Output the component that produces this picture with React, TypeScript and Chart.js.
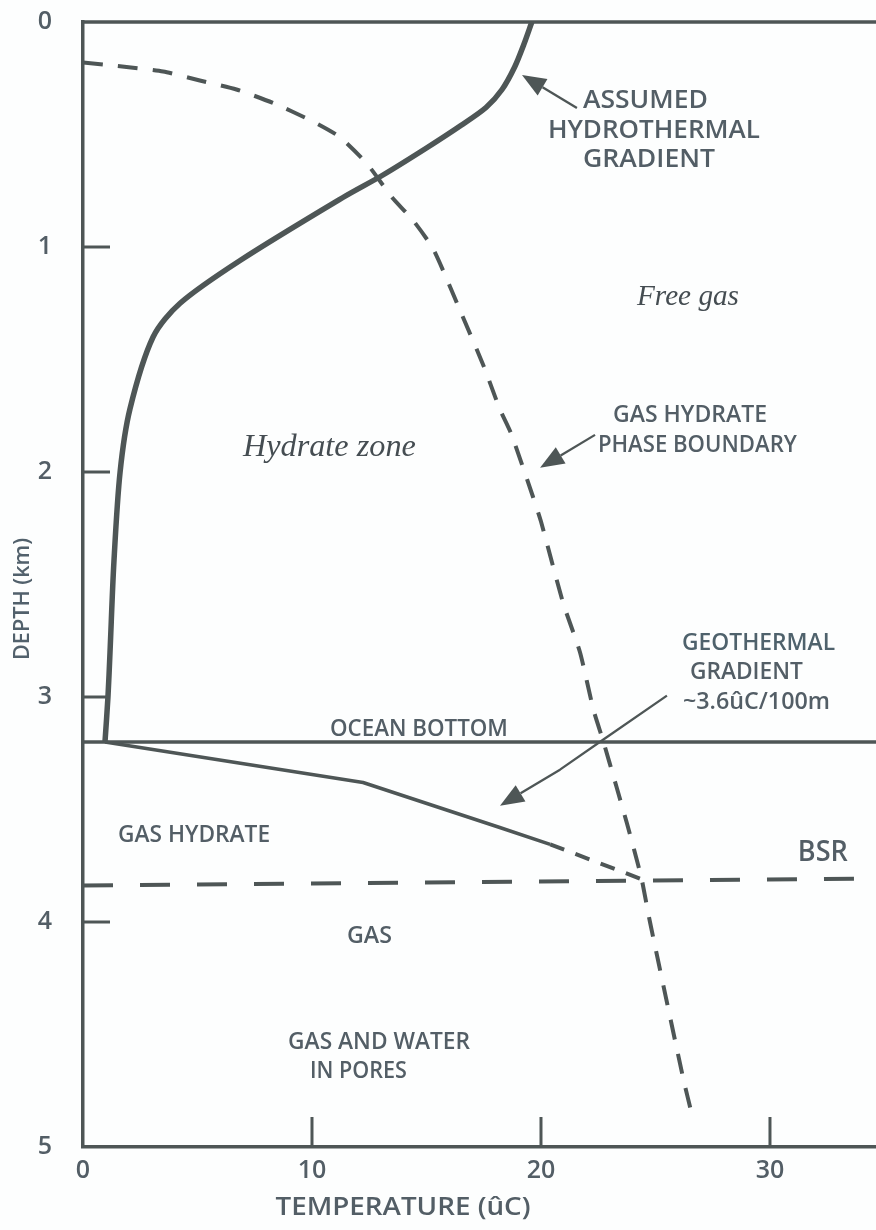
import React, { useEffect, useRef } from 'react';
import { Chart, registerables } from 'chart.js';

Chart.register(...registerables);

// ---------- data ----------
const T_MAX = 34.63;
const DEPTH_TICKS = [0, 1, 2, 3, 4, 5];
const TEMP_TICKS = [0, 10, 20, 30];
const INNER_DEPTH_TICKS = [1, 2, 3, 4];
const INNER_TEMP_TICKS = [10, 20, 30];

// assumed hydrothermal gradient (solid, thick)
const hydroTemp = [19.6, 19.25, 18.85, 18.3, 17.6, 16.5, 15.0, 13.1, 11.35, 6.86, 4.24, 3.06, 2.05, 1.62, 1.35, 1.18, 1.09, 0.96];
const hydroDepth = [0, 0.1, 0.2, 0.3, 0.38, 0.46, 0.56, 0.68, 0.78, 1.06, 1.25, 1.4, 1.72, 2.0, 2.4, 2.8, 3.0, 3.2];

// gas hydrate phase boundary (dashed)
const phaseTemp = [0, 1.9, 3.5, 5.1, 6.7, 8.3, 10.0, 11.2, 12.4, 13.5, 14.4, 15.3, 16.5, 17.5, 18.2, 18.7, 19.65, 20.0, 20.96, 21.7, 22.3, 22.7, 23.3, 23.75, 24.2, 24.4, 24.76, 26.2, 26.6];
const phaseDepth = [0.18, 0.2, 0.22, 0.26, 0.3, 0.36, 0.44, 0.51, 0.63, 0.78, 0.88, 1.01, 1.29, 1.53, 1.72, 1.83, 2.11, 2.22, 2.58, 2.8, 3.06, 3.19, 3.4, 3.56, 3.73, 3.81, 4.0, 4.69, 4.86];

// geothermal gradient below the ocean bottom
const geoSolidTemp = [0.96, 12.23, 18.2, 20.4];
const geoSolidDepth = [3.2, 3.38, 3.58, 3.655];
const geoDashTemp = [20.4, 24.4];
const geoDashDepth = [3.655, 3.81];

// ocean bottom and BSR
const oceanTemp = [0, T_MAX];
const oceanDepth = [3.2, 3.2];
const bsrTemp = [0, T_MAX];
const bsrDepth = [3.838, 3.807];

// ---------- styles ----------
const LINE = '#4e5656';
const TEXT = '#535e66';
const ITALIC = '#454d52';
const SANS = '"Open Sans", "Noto Sans", sans-serif';
const SERIF = '"Liberation Serif", "DejaVu Serif", serif';
const W = '600';

const xy = (t: number[], d: number[]) => t.map((v, i) => ({ x: v, y: d[i] }));

type Label = { text: string; t: number; d: number; w: number; font: string; color?: string };
const LABELS: Label[] = [
  { text: 'ASSUMED', t: 24.56, d: 0.351, w: 125, font: `${W} 25px ${SANS}` },
  { text: 'HYDROTHERMAL', t: 24.93, d: 0.484, w: 212, font: `${W} 25px ${SANS}` },
  { text: 'GRADIENT', t: 24.72, d: 0.613, w: 132, font: `${W} 25px ${SANS}` },
  { text: 'Free gas', t: 26.42, d: 1.222, w: 102, font: `italic 30px ${SERIF}`, color: ITALIC },
  { text: 'Hydrate zone', t: 10.76, d: 1.89, w: 173, font: `italic 32px ${SERIF}`, color: ITALIC },
  { text: 'GAS HYDRATE', t: 26.51, d: 1.746, w: 154, font: `${W} 24px ${SANS}` },
  { text: 'PHASE BOUNDARY', t: 26.83, d: 1.879, w: 199, font: `${W} 24px ${SANS}` },
  { text: 'GEOTHERMAL', t: 29.5, d: 2.759, w: 153, font: `${W} 24px ${SANS}`, color: '#4f626c' },
  { text: 'GRADIENT', t: 28.97, d: 2.888, w: 113, font: `${W} 24px ${SANS}` },
  { text: '~3.6ûC/100m', t: 29.41, d: 3.021, w: 147, font: `${W} 24px ${SANS}` },
  { text: 'OCEAN BOTTOM', t: 14.67, d: 3.141, w: 178, font: `${W} 24px ${SANS}` },
  { text: 'GAS HYDRATE', t: 4.85, d: 3.612, w: 152, font: `${W} 24px ${SANS}` },
  { text: 'BSR', t: 32.31, d: 3.692, w: 50, font: `${W} 28px ${SANS}` },
  { text: 'GAS', t: 12.51, d: 4.065, w: 45, font: `${W} 24px ${SANS}` },
  { text: 'GAS AND WATER', t: 12.93, d: 4.536, w: 182, font: `${W} 24px ${SANS}` },
  { text: 'IN PORES', t: 12.03, d: 4.665, w: 97, font: `${W} 24px ${SANS}` },
];

// arrows: polyline in data coords, last point is the tip
const ARROWS: { t: number[]; d: number[] }[] = [
  { t: [21.57, 19.17], d: [0.382, 0.235] },
  { t: [22.36, 19.96], d: [1.835, 1.981] },
  { t: [25.5, 22.71, 20.83, 18.21], d: [2.994, 3.19, 3.323, 3.483] },
];

function fitText(ctx: CanvasRenderingContext2D, text: string, x: number, y: number, width: number, font: string, color: string, rot = 0) {
  ctx.save();
  ctx.font = font;
  const w = ctx.measureText(text).width;
  ctx.translate(x, y);
  if (rot) ctx.rotate(rot);
  ctx.scale(width / w, 1);
  ctx.fillStyle = color;
  ctx.textAlign = 'center';
  ctx.textBaseline = 'middle';
  ctx.fillText(text, 0, 0);
  ctx.restore();
}

const decor = {
  id: 'decor',
  beforeDraw(chart: any) {
    const ctx = chart.ctx;
    ctx.save();
    ctx.fillStyle = '#fdfefe';
    ctx.fillRect(0, 0, chart.width, chart.height);
    ctx.restore();
  },
  afterDraw(chart: any) {
    const ctx: CanvasRenderingContext2D = chart.ctx;
    const xs = chart.scales.x;
    const ys = chart.scales.y;
    const area = chart.chartArea;
    ctx.save();
    ctx.strokeStyle = LINE;
    ctx.lineCap = 'butt';
    // top frame line at depth 0
    ctx.lineWidth = 3.5;
    ctx.beginPath();
    ctx.moveTo(area.left - 1.75, ys.getPixelForValue(0));
    ctx.lineTo(area.right, ys.getPixelForValue(0));
    ctx.stroke();
    // inward ticks
    ctx.lineWidth = 3;
    INNER_DEPTH_TICKS.forEach((v) => {
      const y = ys.getPixelForValue(v);
      ctx.beginPath();
      ctx.moveTo(area.left, y);
      ctx.lineTo(area.left + 27, y);
      ctx.stroke();
    });
    INNER_TEMP_TICKS.forEach((v) => {
      const x = xs.getPixelForValue(v);
      ctx.beginPath();
      ctx.moveTo(x, area.bottom);
      ctx.lineTo(x, area.bottom - 30);
      ctx.stroke();
    });
    // arrows
    ARROWS.forEach((a) => {
      const px = a.t.map((v) => xs.getPixelForValue(v));
      const py = a.d.map((v) => ys.getPixelForValue(v));
      const n = px.length;
      const ang = Math.atan2(py[n - 1] - py[n - 2], px[n - 1] - px[n - 2]);
      const L = 24, H = 9.5;
      const bx = px[n - 1] - L * Math.cos(ang);
      const by = py[n - 1] - L * Math.sin(ang);
      ctx.lineWidth = 2.3;
      ctx.lineJoin = 'round';
      ctx.beginPath();
      ctx.moveTo(px[0], py[0]);
      for (let i = 1; i < n - 1; i++) ctx.lineTo(px[i], py[i]);
      ctx.lineTo(bx, by);
      ctx.stroke();
      ctx.fillStyle = LINE;
      ctx.beginPath();
      ctx.moveTo(px[n - 1], py[n - 1]);
      ctx.lineTo(bx + H * Math.sin(ang), by - H * Math.cos(ang));
      ctx.lineTo(bx - H * Math.sin(ang), by + H * Math.cos(ang));
      ctx.closePath();
      ctx.fill();
    });
    ctx.restore();
    // labels
    LABELS.forEach((l) => {
      fitText(ctx, l.text, xs.getPixelForValue(l.t), ys.getPixelForValue(l.d), l.w, l.font, l.color || TEXT);
    });
    // axis titles
    fitText(ctx, 'TEMPERATURE (ûC)', 403, area.bottom + 61, 255, `${W} 26px ${SANS}`, TEXT);
    fitText(ctx, 'DEPTH (km)', 23, 599, 122, `${W} 21px ${SANS}`, '#52616c', -Math.PI / 2);
  },
};

export default function App() {
  const ref = useRef<HTMLCanvasElement | null>(null);
  useEffect(() => {
    document.body.style.margin = '0';
    const canvas = ref.current!;
    const lineDs = (data: any, width: number, dash: number[], tension = 0) => ({
      data,
      showLine: true,
      borderColor: LINE,
      backgroundColor: LINE,
      borderWidth: width,
      borderDash: dash,
      borderCapStyle: 'butt',
      borderJoinStyle: 'round',
      pointRadius: 0,
      pointHoverRadius: 0,
      tension,
      fill: false,
    });
    const chart = new Chart(canvas, {
      type: 'scatter',
      data: {
        datasets: [
          lineDs(xy(oceanTemp, oceanDepth), 3.5, []),
          lineDs(xy(bsrTemp, bsrDepth), 4, [30, 27]),
          lineDs(xy(geoSolidTemp, geoSolidDepth), 3.5, []),
          lineDs(xy(geoDashTemp, geoDashDepth), 4, [15, 12]),
          lineDs(xy(phaseTemp, phaseDepth), 4, [20, 15], 0.2),
          lineDs(xy(hydroTemp, hydroDepth), 5.5, [], 0.3),
        ] as any,
      },
      options: {
        animation: false,
        responsive: false,
        devicePixelRatio: 1,
        layout: { padding: { top: 22, left: 0, right: 0, bottom: 0 } },
        plugins: { legend: { display: false }, tooltip: { enabled: false } },
        events: [],
        scales: {
          x: {
            type: 'linear',
            min: 0,
            max: T_MAX,
            afterFit: (s: any) => { s.height = 83; s.paddingLeft = 0; s.paddingRight = 0; },
            afterBuildTicks: (s: any) => { s.ticks = TEMP_TICKS.map((v) => ({ value: v })); },
            grid: { display: false, drawTicks: false },
            border: { display: true, color: LINE, width: 3.5 },
            ticks: { font: { family: SANS, size: 25, weight: W }, color: TEXT, padding: 9, maxRotation: 0, autoSkip: false, includeBounds: false },
          },
          y: {
            type: 'linear',
            reverse: true,
            min: 0,
            max: 5,
            afterFit: (s: any) => { s.width = 83; s.paddingTop = 0; s.paddingBottom = 0; },
            afterBuildTicks: (s: any) => { s.ticks = DEPTH_TICKS.map((v) => ({ value: v })); },
            grid: { display: false, drawTicks: false },
            border: { display: true, color: LINE, width: 3.5 },
            ticks: { font: { family: SANS, size: 25, weight: W }, color: TEXT, padding: 31, autoSkip: false },
          },
        },
      } as any,
      plugins: [decor],
    });
    return () => chart.destroy();
  }, []);
  return (
    <div style={{ position: 'absolute', left: 0, top: 0, width: 876, height: 1230 }}>
      <canvas ref={ref} width={876} height={1230} style={{ display: 'block', width: 876, height: 1230 }} />
    </div>
  );
}
